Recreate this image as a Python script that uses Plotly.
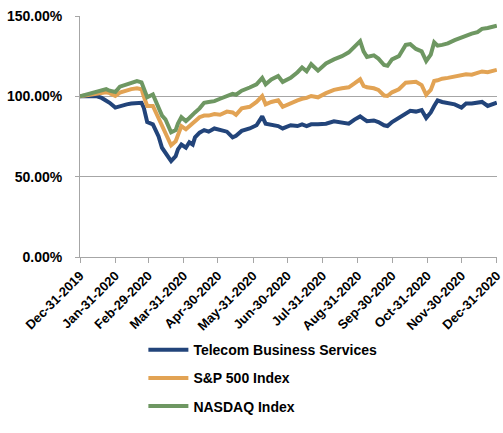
import plotly.graph_objects as go

dates = [
    "2019-12-31", "2020-01-08", "2020-01-15", "2020-01-19", "2020-01-23", "2020-01-26",
    "2020-01-31", "2020-02-04", "2020-02-10", "2020-02-14", "2020-02-19", "2020-02-23",
    "2020-02-25", "2020-02-28", "2020-03-04", "2020-03-09", "2020-03-12", "2020-03-15",
    "2020-03-18", "2020-03-20", "2020-03-24", "2020-03-26", "2020-03-29", "2020-04-02",
    "2020-04-05", "2020-04-08", "2020-04-10", "2020-04-14", "2020-04-18", "2020-04-22",
    "2020-04-27", "2020-05-02", "2020-05-08", "2020-05-13", "2020-05-16", "2020-05-21",
    "2020-05-28", "2020-06-03", "2020-06-08", "2020-06-11", "2020-06-16", "2020-06-22",
    "2020-06-26", "2020-07-03", "2020-07-09", "2020-07-13", "2020-07-17", "2020-07-21",
    "2020-07-27", "2020-08-03", "2020-08-10", "2020-08-17", "2020-08-23", "2020-08-28",
    "2020-09-02", "2020-09-05", "2020-09-08", "2020-09-14", "2020-09-18", "2020-09-23",
    "2020-09-26", "2020-09-30", "2020-10-06", "2020-10-12", "2020-10-16", "2020-10-21",
    "2020-10-26", "2020-10-30", "2020-11-03", "2020-11-06", "2020-11-09", "2020-11-13",
    "2020-11-18", "2020-11-24", "2020-11-30", "2020-12-04", "2020-12-09", "2020-12-14",
    "2020-12-18", "2020-12-23", "2020-12-31",
]

telecom = [
    100, 100.3, 100, 99, 97.5, 96,
    93, 94, 95, 95.5, 96, 96,
    93, 84, 82.6, 75, 68, 65,
    61, 59.7, 62.8, 67, 70, 68,
    71.4, 70, 74.5, 77.4, 79, 78,
    80, 79, 78, 74.5, 75.5, 78.5,
    80, 82, 87.5, 83, 82.6, 81.5,
    80, 82, 81.5, 82.5, 81.5, 82.6,
    82.6, 83, 84.5, 83.5, 83, 85.5,
    87.5, 86, 84.5, 85, 84, 82,
    81.5, 84, 86.5, 89, 91, 90.5,
    91.5, 86.5, 90, 94, 97.5, 96.5,
    96, 95, 93, 95.5, 95.5, 96,
    96.5, 94, 96,
]

sp500 = [
    100, 101, 101.5, 102, 102.5, 102,
    100.2, 102.3, 104, 104.5, 105, 104.4,
    100, 94, 94, 86, 81.5, 77,
    73, 69.5, 72, 76, 81.5, 79.5,
    81.5, 83, 84.5, 87, 88, 88,
    89, 88.5, 90.5, 90, 88.5, 92.5,
    93.5, 96.5, 100.2, 95, 96.5, 97.5,
    93.5, 96, 97.5, 98.5, 99, 100.2,
    99.4, 102, 104, 105, 105.6, 108,
    110.6, 106.5, 105.6, 105, 104, 100.5,
    100.2, 102.5, 104.4, 108.5, 109, 109,
    107, 101, 104, 109.5, 110, 111,
    111.5, 112.5, 113, 113.7, 113.5, 114.5,
    115.5, 115, 116.5,
]

nasdaq = [
    100, 101.5, 103.3, 104, 104.5, 103.5,
    102.7, 106, 107.5, 108.5, 109.5, 108.7,
    104.5, 99.4, 101.2, 92, 88, 85.7,
    81, 77.6, 79, 83, 87, 84.6,
    86.5, 89, 90, 92.5, 96, 96.5,
    97, 98.5, 100.5, 101.5, 101, 103.5,
    105.5, 107.5, 111.5, 107.5, 110.5, 112.7,
    109, 111.5, 115, 118, 115.6, 120,
    116, 120.5, 123, 125, 127.4, 131,
    134.4, 128, 124.5, 125.5, 123.5, 119.5,
    119, 123, 125, 132, 132.5, 129.5,
    128, 122, 126, 133.6, 131.5, 132,
    133, 135, 136.7, 138, 139, 140,
    142, 142.5, 144,
]

tick_vals = [
    "2019-12-31", "2020-01-31", "2020-02-29", "2020-03-31", "2020-04-30", "2020-05-31",
    "2020-06-30", "2020-07-31", "2020-08-31", "2020-09-30", "2020-10-31", "2020-11-30",
    "2020-12-31",
]
tick_text = [
    "Dec-31-2019", "Jan-31-2020", "Feb-29-2020", "Mar-31-2020", "Apr-30-2020",
    "May-31-2020", "Jun-30-2020", "Jul-31-2020", "Aug-31-2020", "Sep-30-2020",
    "Oct-31-2020", "Nov-30-2020", "Dec-31-2020",
]

series = [
    ("Telecom Business Services", telecom, "#22447a"),
    ("S&P 500 Index", sp500, "#e2a354"),
    ("NASDAQ Index", nasdaq, "#6e9762"),
]

fig = go.Figure()
for i, (name, vals, color) in enumerate(series):
    fig.add_trace(go.Scatter(
        x=dates, y=vals, name=name, mode="lines",
        line=dict(color=color, width=4),
        legendgroup=f"g{i}",
    ))

font_family = "Liberation Sans, Arial, sans-serif"

fig.update_layout(
    width=503, height=433,
    margin=dict(l=80, r=6, t=16, b=176),
    paper_bgcolor="white", plot_bgcolor="white",
    font=dict(family=font_family, color="black"),
    showlegend=True,
    legend=dict(
        x=0.152, y=-0.32, xanchor="left", yanchor="top",
        orientation="v",
        font=dict(size=14, family=font_family, color="black", weight="bold"),
        tracegroupgap=7,
        bgcolor="rgba(0,0,0,0)",
        itemwidth=40,
    ),
)

fig.update_xaxes(
    type="date",
    range=["2019-12-31", "2020-12-31 04:00"],
    tickvals=tick_vals, ticktext=tick_text,
    tickangle=-45,
    tickfont=dict(size=13, family=font_family, color="black", weight="bold"),
    showgrid=False,
    showline=True, linecolor="#a6a6a6", linewidth=1,
    ticks="outside", ticklen=5, tickcolor="#a6a6a6",
    zeroline=False,
    automargin=False,
    ticklabeloverflow="allow",
)

fig.update_yaxes(
    range=[0, 150],
    tickvals=[0, 50, 100, 150],
    ticktext=["0.00%", "50.00%", "100.00%", "150.00%"],
    tickfont=dict(size=14, family=font_family, color="black", weight="bold"),
    showgrid=True, gridcolor="#a6a6a6", gridwidth=1,
    showline=True, linecolor="#a6a6a6", linewidth=1,
    ticks="outside", ticklen=4, tickcolor="#a6a6a6",
    zeroline=False,
    ticklabelstandoff=10,
    automargin=False,
)

fig.write_html(
    "out.html",
    config={"displayModeBar": False},
    post_script="document.body.style.margin='0';document.body.style.padding='0';document.body.style.overflow='hidden';",
)
